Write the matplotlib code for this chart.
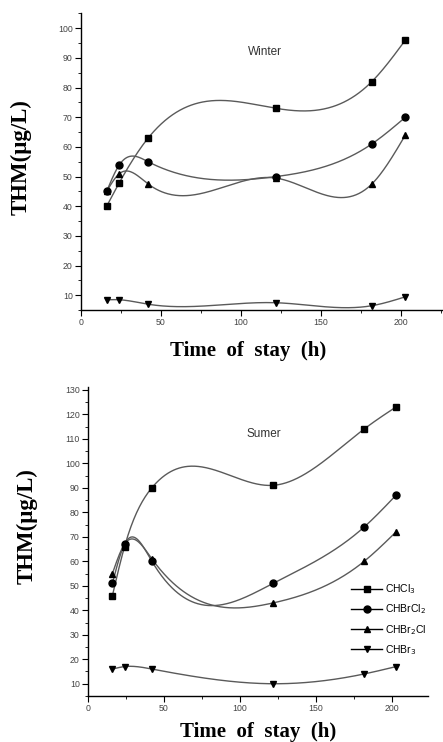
import numpy as np
import matplotlib
matplotlib.use("Agg")
import matplotlib.pyplot as plt
from matplotlib.ticker import MultipleLocator

# ---- data ----
time_h = [16, 24, 42, 122, 182, 203]
series_names = ["CHCl$_3$", "CHBrCl$_2$", "CHBr$_2$Cl", "CHBr$_3$"]
markers = ["s", "o", "^", "v"]

winter_chcl3 = [40, 48, 63, 73, 82, 96]
winter_chbrcl2 = [45, 54, 55, 50, 61, 70]
winter_chbr2cl = [45, 51, 47.5, 49.5, 47.5, 64]
winter_chbr3 = [8.5, 8.5, 7, 7.5, 6.5, 9.5]

summer_chcl3 = [46, 66, 90, 91, 114, 123]
summer_chbrcl2 = [51, 67, 60, 51, 74, 87]
summer_chbr2cl = [55, 67, 61, 43, 60, 72]
summer_chbr3 = [16, 17, 16, 10, 14, 17]


def natural_spline(x, y, n=400):
    x = np.asarray(x, float); y = np.asarray(y, float)
    k = len(x); h = np.diff(x)
    A = np.zeros((k, k)); b = np.zeros(k)
    A[0, 0] = 1; A[-1, -1] = 1
    for i in range(1, k - 1):
        A[i, i - 1] = h[i - 1]; A[i, i] = 2 * (h[i - 1] + h[i]); A[i, i + 1] = h[i]
        b[i] = 3 * ((y[i + 1] - y[i]) / h[i] - (y[i] - y[i - 1]) / h[i - 1])
    c = np.linalg.solve(A, b)
    xs = np.linspace(x[0], x[-1], n)
    idx = np.clip(np.searchsorted(x, xs) - 1, 0, k - 2)
    dx = xs - x[idx]
    bb = (y[1:] - y[:-1]) / h - h * (2 * c[:-1] + c[1:]) / 3
    d = (c[1:] - c[:-1]) / (3 * h)
    ys = y[idx] + bb[idx] * dx + c[idx] * dx ** 2 + d[idx] * dx ** 3
    return xs, ys


fig = plt.figure(figsize=(4.43, 7.42), dpi=100)
ax1 = fig.add_axes([0.183, 0.582, 0.815, 0.400])
ax2 = fig.add_axes([0.199, 0.062, 0.767, 0.416])

line_col = "#5a5a5a"
tick_font = dict(family="Liberation Sans", size=6.3, color="#444444")
label_font = dict(family="Liberation Serif", size=15, weight="bold")


def draw(ax, data, ylim, xlim, season, season_xy, xlab_xy, ylab_xy, legend=False):
    for vals, name, m in zip(data, series_names, markers):
        xs, ys = natural_spline(time_h, vals)
        ax.plot(xs, ys, color=line_col, lw=1.0, zorder=2)
        ax.plot(time_h, vals, linestyle="none", marker=m, color="black", ms=5, zorder=3)
        ax.plot([], [], color="black", lw=1.0, marker=m, ms=5, label=name)
    ax.set_xlim(*xlim); ax.set_ylim(*ylim)
    for s in ("top", "right"):
        ax.spines[s].set_visible(False)
    for s in ("left", "bottom"):
        ax.spines[s].set_linewidth(1.0)
    ax.xaxis.set_major_locator(MultipleLocator(50))
    ax.xaxis.set_minor_locator(MultipleLocator(25))
    ax.yaxis.set_major_locator(MultipleLocator(10))
    ax.yaxis.set_minor_locator(MultipleLocator(5))
    ax.tick_params(which="major", length=4.5, width=0.8, pad=1.5)
    ax.tick_params(which="minor", length=2.5, width=0.6)
    for lab in ax.get_xticklabels() + ax.get_yticklabels():
        lab.set_fontfamily(tick_font["family"]); lab.set_fontsize(tick_font["size"])
        lab.set_color(tick_font["color"])
    ax.set_xlabel("Time  of  stay  (h)", **label_font)
    ax.set_ylabel("THM(\u03bcg/L)", family="Liberation Serif", size=16.5, weight="bold")
    ax.xaxis.set_label_coords(*xlab_xy)
    ax.yaxis.set_label_coords(*ylab_xy)
    ax.text(*season_xy, season, transform=ax.transData, family="Liberation Sans",
            size=8.5, color="#333333", ha="center", va="center")
    if legend:
        ax.legend(loc="lower right", bbox_to_anchor=(1.01, 0.11), frameon=False,
                  prop=dict(family="Liberation Sans", size=7.5), handlelength=3.0,
                  handletextpad=0.2, labelspacing=0.62, borderpad=0)


# label coordinates are in axes fraction
draw(ax1, [winter_chcl3, winter_chbrcl2, winter_chbr2cl, winter_chbr3],
     (5, 105), (0, 226), "Winter", (115, 92),
     xlab_xy=(0.463, -0.105), ylab_xy=(-0.137, 0.517))
draw(ax2, [summer_chcl3, summer_chbrcl2, summer_chbr2cl, summer_chbr3],
     (5, 131), (0, 224), "Sumer", (116, 112),
     xlab_xy=(0.5, -0.083), ylab_xy=(-0.15, 0.55), legend=True)

fig.savefig("out.png", dpi=100)
